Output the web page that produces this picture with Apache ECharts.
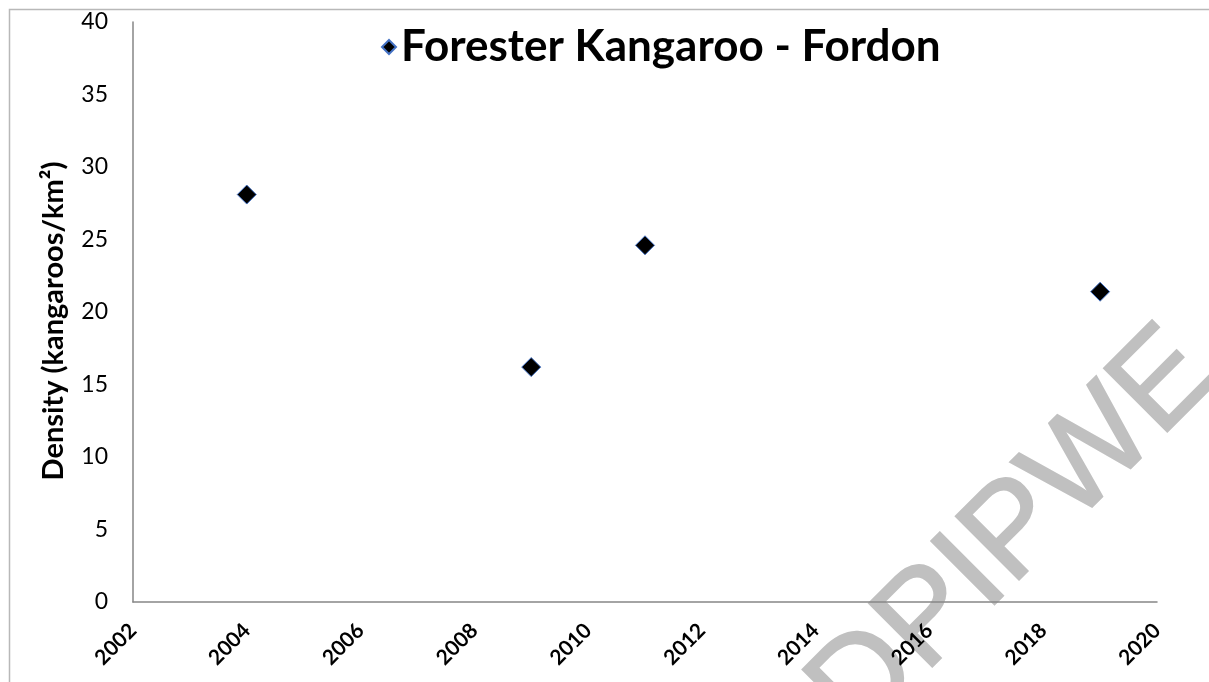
<!DOCTYPE html>
<html>
<head>
<meta charset="utf-8">
<script src="https://cdn.jsdelivr.net/npm/echarts@6/dist/echarts.min.js"></script>
<style>html,body{margin:0;padding:0;background:#fff;}#c{width:1209px;height:682px;}</style>
</head>
<body>
<div id="c"></div>
<script>
const seriesName = 'Forester Kangaroo - Fordon';
const years = [2004, 2009, 2011, 2019];
const density = [28.1, 16.2, 24.6, 21.4];
const yAxisTitle = 'Density (kangaroos/km²)';
const watermark = 'DPIPWE';

const chart = echarts.init(document.getElementById('c'), null, {renderer: 'canvas'});
const font = 'Lato, "Open Sans", sans-serif';
chart.setOption({
  backgroundColor: '#fff',
  animation: false,
  textStyle: {fontFamily: font},
  grid: {left: 133, right: 52, top: 22, bottom: 80, containLabel: false},
  legend: {
    show: true, left: 376, top: 20, icon: 'diamond', itemWidth: 14, itemHeight: 14,
    textStyle: {fontFamily: font, fontWeight: 'bold', fontSize: 44, color: '#000'},
    data: [seriesName]
  },
  xAxis: {
    type: 'value', min: 2002, max: 2020, interval: 2,
    axisLine: {show: true, onZero: false, lineStyle: {color: '#868686', width: 1.5}},
    axisTick: {show: false},
    splitLine: {show: false},
    axisLabel: {rotate: 45, margin: 25, fontFamily: font, fontWeight: 'bold', fontSize: 21, color: '#000',
      formatter: v => String(v)}
  },
  yAxis: {
    type: 'value', min: 0, max: 40, interval: 5,
    name: yAxisTitle, nameLocation: 'middle', nameGap: 65,
    nameTextStyle: {fontFamily: font, fontWeight: 'bold', fontSize: 29, color: '#000', padding: [0, 18, 0, 0]},
    axisLine: {show: true, lineStyle: {color: '#868686', width: 1.5}},
    axisTick: {show: false},
    splitLine: {show: false},
    axisLabel: {margin: 25, fontFamily: font, fontSize: 23, color: '#000'}
  },
  series: [{
    name: seriesName, type: 'scatter', symbol: 'diamond', symbolSize: 19,
    itemStyle: {color: '#000', opacity: 1, borderColor: '#4472c4', borderWidth: 1},
    data: years.map((y, i) => [y, density[i]])
  }],
  graphic: [
    {type: 'rect', left: 7, top: 7, z: -20, shape: {width: 1230, height: 700}, style: {fill: 'none', stroke: '#b8b8b8', lineWidth: 1.5}, silent: true},
    {type: 'text', x: 833, y: 715, rotation: Math.PI / 4, z: -10,
     style: {text: watermark, fontSize: 130, fontFamily: '"Liberation Sans", Arial, sans-serif', fill: '#c0c0c0', stroke: '#c0c0c0', lineWidth: 2, textAlign: 'left', textVerticalAlign: 'middle'}, silent: true}
  ]
});
</script>
</body>
</html>
